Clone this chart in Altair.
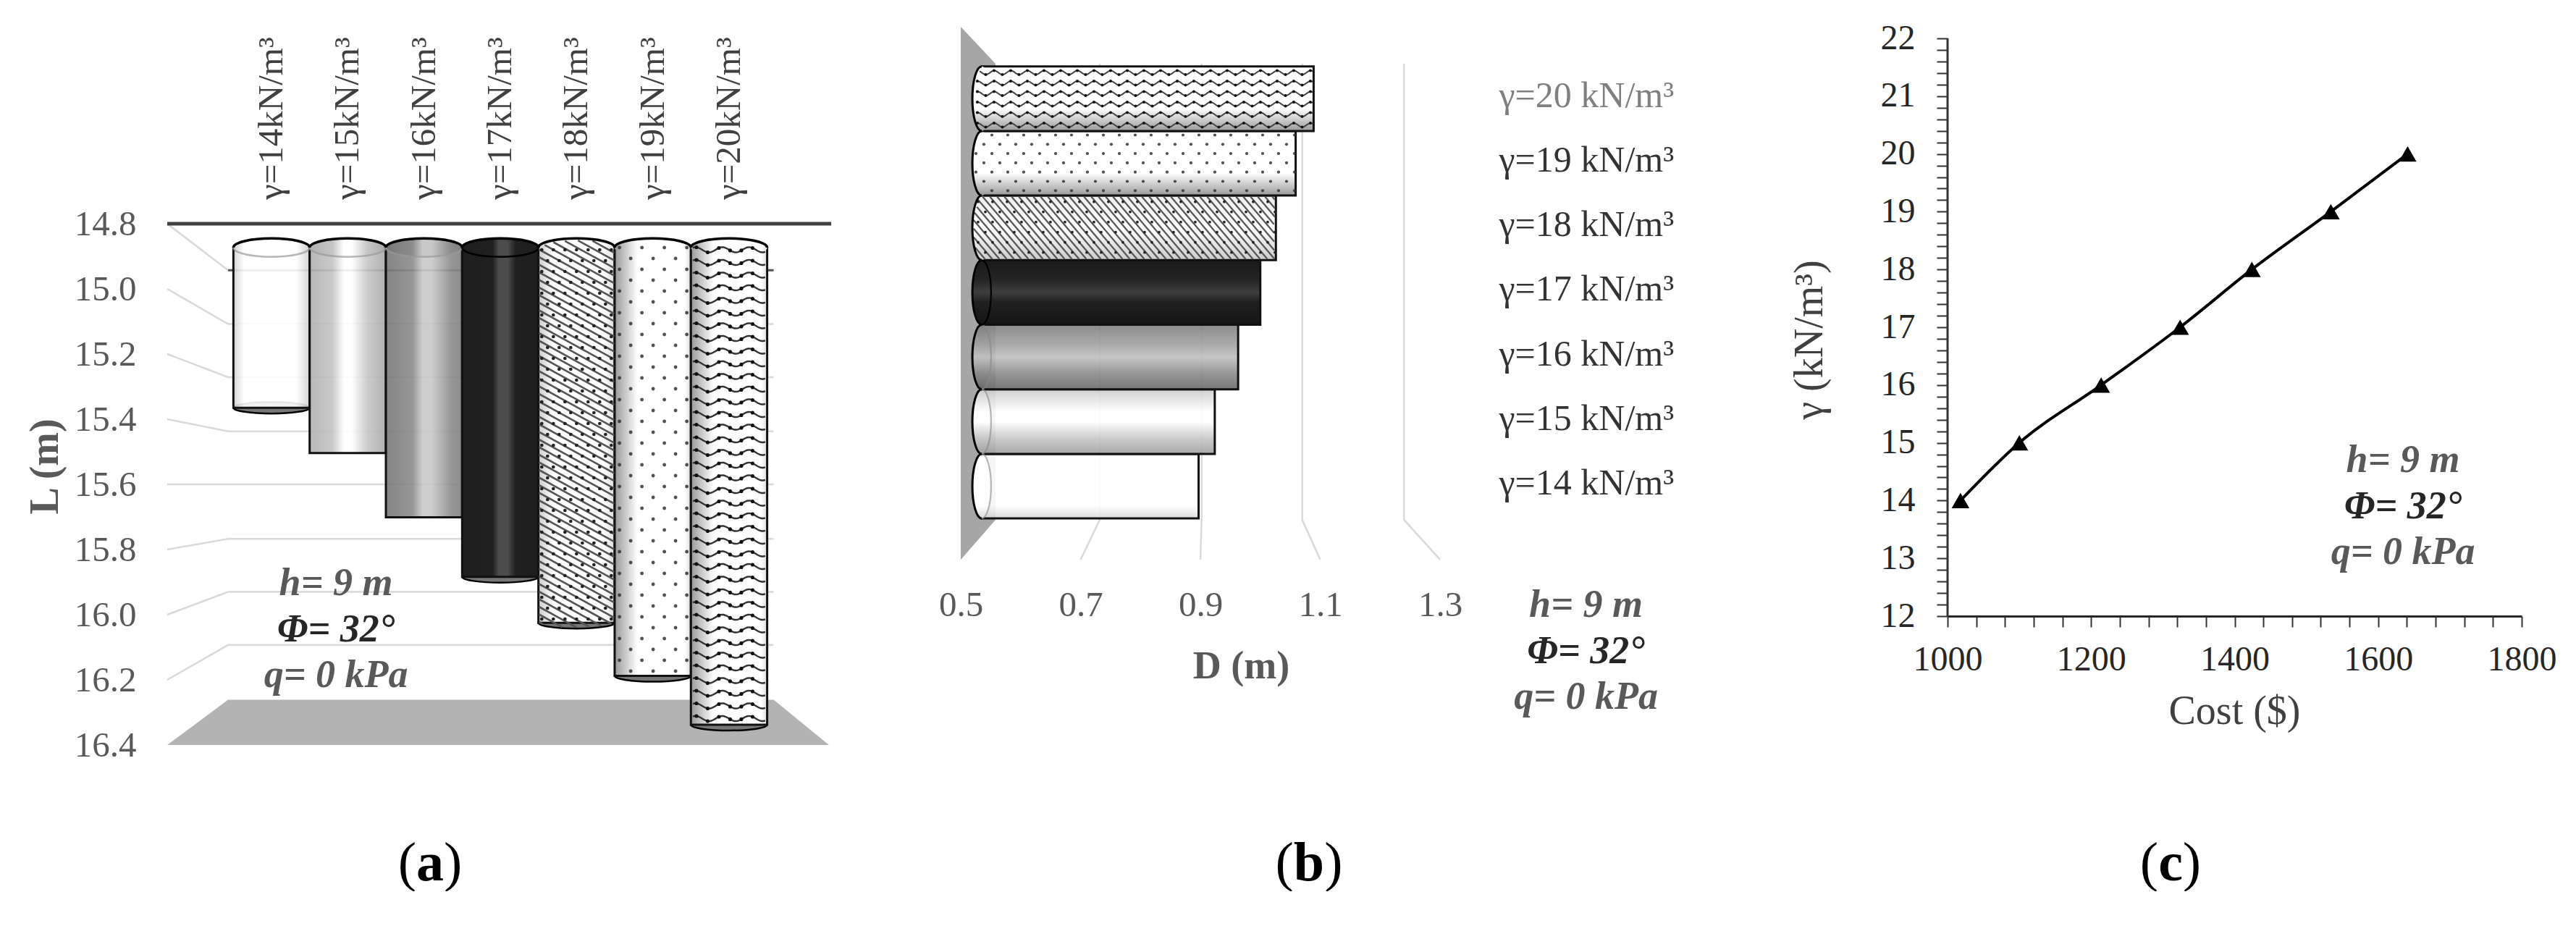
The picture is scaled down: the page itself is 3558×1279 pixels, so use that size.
import math
import numpy as np
import pandas as pd
import altair as alt

SERIF = "Liberation Serif"
gammas = [14, 15, 16, 17, 18, 19, 20]
L_bottom = [15.365, 15.504, 15.701, 15.884, 16.025, 16.188, 16.338]
D_right = [0.897, 0.924, 0.963, 1.000, 1.026, 1.059, 1.089]
cost = [1018, 1100, 1214, 1324, 1424, 1534, 1641]
L_ticks = [14.8, 15.0, 15.2, 15.4, 15.6, 15.8, 16.0, 16.2, 16.4]
L_back = [14.943, 15.108, 15.271, 15.437, 15.600, 15.767, 15.930, 16.093, 16.261]
D_ticks = [0.5, 0.7, 0.9, 1.1, 1.3]
D_back = [0.558, 0.732, 0.902, 1.070, 1.240]
stat_lines = ["h= 9 m", "Φ= 32°", "q= 0 kPa"]
stat_colors = ["#595959", "#262626", "#595959"]

TOP = 37
B_LEFT, B_TICK_R, B_BOTTOM = 1326, 1988, 773
C_LEFT, C_RIGHT, C_BOTTOM, C_Y22 = 2689, 3482, 851, 53
# panel a geometry
A_LEFT, A_RIGHT, A_BOTTOM = 230, B_LEFT, 1029
A_Y0 = 309
A_PXU = 105.3
A_PYU = (A_BOTTOM - A_Y0) / 1.6
A_XDOM = [14 - (374 - A_LEFT) / A_PXU, 20 + (A_RIGHT - 1006) / A_PXU]
A_YDOM = [16.4, 14.8 - (A_Y0 - TOP) / A_PYU]
# panel b geometry
B_RIGHT = C_LEFT
B_PXU = (B_TICK_R - B_LEFT) / 0.8
B_PYU = 89.2
B_Y14 = 671.5
B_Y20 = B_Y14 - 6 * B_PYU
B_YDOM = [14 - (B_BOTTOM - B_Y14) / B_PYU, 20 + (B_Y20 - TOP) / B_PYU]
B_XDOM = [0.5, 0.5 + (B_RIGHT - B_LEFT) / B_PXU]
# panel c geometry
C_YDOM = [12, 22 + (C_Y22 - TOP) / ((C_BOTTOM - C_Y22) / 10)]


def grad(stops, vertical=False):
    ss = [alt.GradientStop(color=c, offset=o) for o, c in stops]
    if vertical:
        return alt.LinearGradient(gradient="linear", stops=ss, x1=0, x2=0, y1=0, y2=1)
    return alt.LinearGradient(gradient="linear", stops=ss, x1=0, x2=1, y1=0, y2=0)


STOPS_A = {
    14: [(0, "#cfcfcf"), (.14, "#ffffff"), (.82, "#ffffff"), (1, "#d0d0d0")],
    15: [(0, "#b0b0b0"), (.3, "#c4c4c4"), (.45, "#ffffff"), (.55, "#ffffff"), (.75, "#c8c8c8"), (1, "#a8a8a8")],
    16: [(0, "#777777"), (.35, "#8c8c8c"), (.48, "#c8c8c8"), (.6, "#c8c8c8"), (.85, "#8c8c8c"), (1, "#808080")],
    17: [(0, "#1e1e1e"), (.4, "#202020"), (.48, "#4c4c4c"), (.6, "#4c4c4c"), (.7, "#202020"), (1, "#1e1e1e")],
    18: [(0, "#cccccc"), (.2, "#ffffff"), (.85, "#ffffff"), (1, "#dddddd")],
    19: [(0, "#999999"), (.3, "#ffffff"), (.92, "#ffffff"), (1, "#dddddd")],
    20: [(0, "#999999"), (.3, "#ffffff"), (.92, "#ffffff"), (1, "#dddddd")],
}
STOPS_B = {
    14: [(0, "#ffffff"), (.8, "#ffffff"), (1, "#d8d8d8")],
    15: [(0, "#cccccc"), (.35, "#ffffff"), (.5, "#ffffff"), (.75, "#c8c8c8"), (1, "#a0a0a0")],
    16: [(0, "#808080"), (.3, "#a0a0a0"), (.5, "#c0c0c0"), (.75, "#8c8c8c"), (1, "#6a6a6a")],
    17: [(0, "#1a1a1a"), (.3, "#242424"), (.5, "#3e3e3e"), (.65, "#202020"), (1, "#151515")],
    18: [(0, "#eeeeee"), (.5, "#ffffff"), (1, "#cccccc")],
    19: [(0, "#ffffff"), (.65, "#ffffff"), (1, "#999999")],
    20: [(0, "#ffffff"), (.65, "#ffffff"), (1, "#999999")],
}

ELL_TOP = "M-1,0A1,0.24,0,1,1,1,0A1,0.24,0,1,1,-1,0Z"
ARC_TOP_UP = "M-1,0A1,0.24,0,0,1,1,0"
ARC_TOP_DN = "M-1,0A1,0.24,0,0,0,1,0"
ELL_BOT = "M-1,0A1,0.15,0,1,1,1,0A1,0.15,0,1,1,-1,0Z"
ELL_LEFT = "M0,-1A0.29,1,0,1,1,0,1A0.29,1,0,1,1,0,-1Z"
ARC_LEFT = "M0,-1A0.29,1,0,0,0,0,1"
ARC_LEFT_R = "M0,-1A0.29,1,0,0,1,0,1"

# ---------------------- panel a
ax_sx = alt.Scale(domain=A_XDOM, nice=False, zero=False)
ax_sy = alt.Scale(domain=A_YDOM, nice=False, zero=False)
a_yaxis = alt.Axis(values=L_ticks, format=".1f", domain=False, ticks=False, grid=False,
                   labelFont=SERIF, labelFontSize=49, labelColor="#595959", labelPadding=43,
                   labelOverlap=False, labelBound=False, labelFlush=False,
                   title="L (m)", titleFont=SERIF, titleFontSize=56, titleFontWeight="bold",
                   titleColor="#595959", titleX=-140, titleY=607, titleAnchor="middle", titleAngle=270)
AX = lambda f="x": alt.X(f"{f}:Q", scale=ax_sx, axis=None, title=None)
AY = lambda f="y": alt.Y(f"{f}:Q", scale=ax_sy, axis=a_yaxis)
a_w = A_RIGHT - A_LEFT
a_h = A_BOTTOM - TOP
x_back_l = 14 + (314 - 374) / A_PXU
x_back_r = 20 + (1067.6 - 1006) / A_PXU
x_front_l, x_front_r = A_XDOM[0], 20 + (1144 - 1006) / A_PXU
a_layers = []

grid_rows = []
for i, (f, b) in enumerate(zip(L_ticks[:-1], L_back[:-1])):
    grid_rows += [dict(i=i, o=0, x=x_front_l, y=f), dict(i=i, o=1, x=x_back_l, y=b), dict(i=i, o=2, x=x_back_r, y=b)]
a_layers.append(
    alt.Chart(pd.DataFrame(grid_rows)).mark_line(color="#d9d9d9", strokeWidth=2.5).encode(x=AX(), y=AY(), detail="i:N", order="o:Q"))
floor = pd.DataFrame(dict(x=[x_front_l, x_back_l, x_back_r, x_front_r], y=[16.4, L_back[-1], L_back[-1], 16.4], y2=[16.4] * 4))
a_layers.append(alt.Chart(floor).mark_area(color="#b3b3b3", opacity=1).encode(x=AX(), y=AY(), y2="y2:Q"))
a_layers.append(alt.Chart(pd.DataFrame(dict(x=[x_front_l], x2=[x_front_r + .03], y=[14.8]))).mark_rule(color="#404040", strokeWidth=5).encode(x=AX(), x2="x2:Q", y=AY()))
a_layers.append(alt.Chart(pd.DataFrame(dict(x=[x_back_l], x2=[x_back_r], y=[L_back[0]]))).mark_rule(color="#555555", strokeWidth=3).encode(x=AX(), x2="x2:Q", y=AY()))

A_TOPL = 14.8 + (342 - A_Y0) / A_PYU
for g, bot in zip(gammas, L_bottom):
    d = pd.DataFrame(dict(x=[g - .5], x2=[g + .5], y=[A_TOPL], y2=[bot], c=[g], b=[bot], t=[A_TOPL]))
    st = grad(STOPS_A[g])
    if g not in (15, 16):
        a_layers.append(alt.Chart(d).mark_point(shape=ELL_BOT, size=A_PXU ** 2, filled=True, fill="#777777", stroke="#000000", strokeWidth=2.5, opacity=1).encode(x=AX("c"), y=AY("b")))
    a_layers.append(alt.Chart(d).mark_rect(color=st, stroke="#111111", strokeWidth=3, fillOpacity=.9 if g < 17 else 1).encode(x=AX(), x2="x2:Q", y=AY(), y2="y2:Q"))
    a_layers.append(alt.Chart(d).mark_point(shape=ELL_TOP, size=A_PXU ** 2, filled=True, fill=st, strokeWidth=0, opacity=1).encode(x=AX("c"), y=AY("t")))


def a_px(g, px, py):
    return g + (px) / A_PXU, 14.8 + (py - A_Y0) / A_PYU


def a_inside(t, py, bot_py):
    if abs(t) > 1:
        return False
    s = math.sqrt(max(0, 1 - t * t))
    return 342 - 12.6 * s + 2 <= py <= bot_py + 7.5 * s - 1


# bar 18: hatch + dots
bot18 = A_Y0 + (L_bottom[4] - 14.8) * A_PYU
rows = []
for k, c in enumerate(np.arange(250, bot18 + 40, 10.5)):
    pts = []
    for px in np.arange(-52, 52.5, 2):
        py = c + .55 * (px + 52)
        if a_inside(px / 52.65, py, bot18):
            pts.append((px, py))
    if len(pts) >= 2:
        for o, (px, py) in enumerate([pts[0], pts[-1]]):
            x, y = a_px(18, px, py)
            rows.append(dict(i=k, o=o, x=x, y=y))
a_layers.append(alt.Chart(pd.DataFrame(rows)).mark_line(color="#555555", strokeWidth=2.6).encode(x=AX(), y=AY(), detail="i:N", order="o:Q"))
dots = []
for r, py in enumerate(np.arange(345, bot18, 15)):
    for px in np.arange(-48 + (r % 2) * 8, 50, 16):
        if a_inside(px / 52.65, py, bot18):
            x, y = a_px(18, px, py)
            dots.append(dict(x=x, y=y))
a_layers.append(alt.Chart(pd.DataFrame(dots)).mark_circle(color="#222222", size=22, opacity=1).encode(x=AX(), y=AY()))

# bar 19: staggered dots
bot19 = A_Y0 + (L_bottom[5] - 14.8) * A_PYU
dots = []
for r, py in enumerate(np.arange(342, bot19, 15)):
    for px in np.arange(-46 + (r % 2) * 15.5, 50, 31):
        if a_inside(px / 52.65, py, bot19):
            x, y = a_px(19, px, py)
            dots.append(dict(x=x, y=y, s=px))
a_layers.append(alt.Chart(pd.DataFrame(dots)).mark_circle(color="#333333", size=24, opacity=.85).encode(x=AX(), y=AY()))

# bar 20: wavy rows
bot20 = A_Y0 + (L_bottom[6] - 14.8) * A_PYU
rows, dots = [], []
for k, yr in enumerate(np.arange(345, bot20 + 6, 17.5)):
    o = 0
    for px in np.arange(-50, 50.5, 2.5):
        py = yr + 3.6 * math.sin(2 * math.pi * px / 37)
        if a_inside(px / 52.65, py, bot20):
            x, y = a_px(20, px, py)
            rows.append(dict(i=k, o=o, x=x, y=y))
            o += 1
    for px in np.arange(-45, 48, 15.5):
        py = yr + 3.6 * math.sin(2 * math.pi * px / 37)
        if a_inside(px / 52.65, py, bot20):
            x, y = a_px(20, px, py)
            dots.append(dict(x=x, y=y))
a_layers.append(alt.Chart(pd.DataFrame(rows)).mark_line(color="#333333", strokeWidth=2.4).encode(x=AX(), y=AY(), detail="i:N", order="o:Q"))
a_layers.append(alt.Chart(pd.DataFrame(dots)).mark_circle(color="#111111", size=26, opacity=1).encode(x=AX(), y=AY()))

# arcs on top of all textures
for g in gammas:
    d = pd.DataFrame(dict(c=[g], t=[A_TOPL]))
    lower_col = "#000000" if g >= 17 else "#999999"
    lower_op = 0 if g >= 18 else (1 if g == 17 else .7)
    a_layers.append(alt.Chart(d).mark_point(shape=ARC_TOP_DN, size=A_PXU ** 2, filled=False, stroke=lower_col, strokeWidth=2.5, opacity=lower_op).encode(x=AX("c"), y=AY("t")))
    a_layers.append(alt.Chart(d).mark_point(shape=ARC_TOP_UP, size=A_PXU ** 2, filled=False, stroke="#000000", strokeWidth=3.5, opacity=1).encode(x=AX("c"), y=AY("t")))

labels_a = pd.DataFrame(dict(x=gammas, t=[f"γ={g}kN/m³" for g in gammas]))
a_layers.append(alt.Chart(labels_a).mark_text(font=SERIF, fontSize=49, angle=270, align="left", baseline="middle", color="#404040").encode(
    x=AX(), y=alt.value(276 - TOP), text="t:N"))


def stat_layers(cx, y0):
    out = []
    for i, (t, c) in enumerate(zip(stat_lines, stat_colors)):
        out.append(alt.Chart(pd.DataFrame(dict(t=[t]))).mark_text(font=SERIF, fontSize=54, fontStyle="italic", fontWeight="bold", align="center", baseline="middle", color=c).encode(
            x=alt.value(cx), y=alt.value(y0 + i * 63.5 - TOP), text="t:N"))
    return out


def caption_layers(cx, letter, wl):
    fs = 76
    pw = fs * .333
    total = 2 * pw + wl * fs
    x0 = cx - total / 2
    parts = [("(", "normal", x0), (letter, "bold", x0 + pw), (")", "normal", x0 + pw + wl * fs)]
    out = []
    for t, w, x in parts:
        out.append(alt.Chart(pd.DataFrame(dict(t=[t]))).mark_text(font=SERIF, fontSize=fs, fontWeight=w, align="left", baseline="middle", color="#000000").encode(
            x=alt.value(x), y=alt.value(1193 - TOP), text="t:N"))
    return out


a_layers += stat_layers(463 - A_LEFT, 806)
a_layers += caption_layers(593 - A_LEFT, "a", .5)
panel_a = alt.layer(*a_layers).properties(width=a_w, height=a_h)

# ---------------------- panel b
bx_s = alt.Scale(domain=B_XDOM, nice=False, zero=False)
by_s = alt.Scale(domain=B_YDOM, nice=False, zero=False)
b_xaxis = alt.Axis(values=D_ticks, format=".1f", domain=False, ticks=False, grid=False, labelFont=SERIF, labelFontSize=49,
                   labelColor="#595959", labelPadding=38, labelBound=False, labelOverlap=False, labelFlush=False, title="D (m)", titleFont=SERIF, titleFontSize=54,
                   titleFontWeight="bold", titleColor="#595959", titleX=387, titleY=120, titleAnchor="middle")
b_yaxis = alt.Axis(orient="right", values=gammas, domain=False, ticks=False, grid=False, labelFont=SERIF, labelFontSize=50, labelLimit=600,
                   labelColor=alt.expr("datum.value == 20 ? '#7f7f7f' : '#333333'"), labelPadding=2069 - B_RIGHT, labelAlign="left", labelOffset=-4,
                   labelExpr="'γ=' + datum.value + ' kN/m³'", labelBound=False, labelOverlap=False, labelFlush=False, title=None)
BX = lambda f="x": alt.X(f"{f}:Q", scale=bx_s, axis=b_xaxis)
BY = lambda f="y": alt.Y(f"{f}:Q", scale=by_s, axis=b_yaxis)
b_w = B_RIGHT - B_LEFT
b_h = B_BOTTOM - TOP
y_front_b = B_YDOM[0]
y_back_b = 14 + (B_Y14 - 718) / B_PYU
y_back_t = 14 + (B_Y14 - 88) / B_PYU
y_front_t = B_YDOM[1]
b_layers = []
wall = pd.DataFrame(dict(y=[y_front_t, y_back_t, y_back_b, y_front_b], x=[.5, D_back[0], D_back[0], .5], x2=[.5] * 4))
grid_rows = []
for i, (f, b) in enumerate(zip(D_ticks[1:], D_back[1:])):
    grid_rows += [dict(i=i, o=0, x=f, y=y_front_b), dict(i=i, o=1, x=b, y=y_back_b)]
    grid_rows += [dict(i=i, o=2, x=b, y=y_back_t)]
b_layers.append(alt.Chart(pd.DataFrame(grid_rows)).mark_line(color="#d9d9d9", strokeWidth=2.5).encode(x=BX(), y=BY(), detail="i:N", order="o:Q"))
b_layers.append(alt.Chart(wall).mark_area(color="#a6a6a6", opacity=1, orient="horizontal").encode(x=BX(), x2="x2:Q", y=BY()))

D_LEFT = 0.535
for g, r in zip(gammas, D_right):
    d = pd.DataFrame(dict(x=[D_LEFT], x2=[r], y=[g + .5], y2=[g - .5], g=[g]))
    st = grad(STOPS_B[g], True)
    b_layers.append(alt.Chart(d).mark_rect(color=st, stroke="#111111", strokeWidth=3, fillOpacity=.9 if g < 17 else 1).encode(x=BX(), x2="x2:Q", y=BY(), y2="y2:Q"))
    b_layers.append(alt.Chart(d).mark_point(shape=ELL_LEFT, size=B_PYU ** 2, filled=True, fill=st, strokeWidth=0, opacity=1).encode(x=BX(), y=BY("g")))


def b_px(g, r_dx, dy):
    return D_LEFT + r_dx / B_PXU, g - dy / B_PYU


def b_inside(dx, dy, w):
    t = dy / 44.6
    if abs(t) > 1:
        return False
    return -13 * math.sqrt(1 - t * t) + 1 <= dx <= w - 1


# bar 18 hatch
w18 = (D_right[4] - D_LEFT) * B_PXU
rows, dots = [], []
for k, c in enumerate(np.arange(-100, w18 + 20, 10)):
    pts = [(c + .85 * (dy + 44.6), dy) for dy in np.arange(-43, 43.5, 2)]
    pts = [p for p in pts if b_inside(p[0], p[1], w18)]
    if len(pts) >= 2:
        for o, (px, py) in enumerate([pts[0], pts[-1]]):
            x, y = b_px(18, px, py)
            rows.append(dict(i=k, o=o, x=x, y=y))
b_layers.append(alt.Chart(pd.DataFrame(rows)).mark_line(color="#555555", strokeWidth=2.2).encode(x=BX(), y=BY(), detail="i:N", order="o:Q"))
for r, dy in enumerate(np.arange(-36, 42, 14)):
    for px in np.arange(-5 + (r % 2) * 10, w18, 20):
        if b_inside(px, dy, w18):
            x, y = b_px(18, px, dy)
            dots.append(dict(x=x, y=y))
b_layers.append(alt.Chart(pd.DataFrame(dots)).mark_circle(color="#222222", size=14, opacity=1).encode(x=BX(), y=BY()))

# bar 19 dots
w19 = (D_right[5] - D_LEFT) * B_PXU
dots = []
for r, dy in enumerate(np.arange(-39, 42, 12.8)):
    for px in np.arange(-8 + (r % 2) * 11, w19, 22):
        if b_inside(px, dy, w19):
            x, y = b_px(19, px, dy)
            dots.append(dict(x=x, y=y))
b_layers.append(alt.Chart(pd.DataFrame(dots)).mark_circle(color="#333333", size=18, opacity=.85).encode(x=BX(), y=BY()))

# bar 20 waves
w20 = (D_right[6] - D_LEFT) * B_PXU
rows, dots = [], []
for k, dy0 in enumerate(np.arange(-36, 44, 14.5)):
    o = 0
    for px in np.arange(-8, w20, 2.5):
        dy = dy0 + 2.8 * math.sin(2 * math.pi * px / 23)
        if b_inside(px, dy, w20):
            x, y = b_px(20, px, dy)
            rows.append(dict(i=k, o=o, x=x, y=y))
            o += 1
    for px in np.arange(-6, w20, 11.5):
        dy = dy0 + 2.8 * math.sin(2 * math.pi * px / 23)
        if b_inside(px, dy, w20):
            x, y = b_px(20, px, dy)
            dots.append(dict(x=x, y=y))
b_layers.append(alt.Chart(pd.DataFrame(rows)).mark_line(color="#444444", strokeWidth=2).encode(x=BX(), y=BY(), detail="i:N", order="o:Q"))
b_layers.append(alt.Chart(pd.DataFrame(dots)).mark_circle(color="#111111", size=16, opacity=1).encode(x=BX(), y=BY()))

for g, r in zip(gammas, D_right):
    d = pd.DataFrame(dict(x=[D_LEFT], g=[g]))
    b_layers.append(alt.Chart(d).mark_point(shape=ARC_LEFT_R, size=B_PYU ** 2, filled=False, stroke="#000000" if g == 17 else "#888888", strokeWidth=2.2, opacity=1 if g == 17 else (.0 if g >= 18 else .6)).encode(x=BX(), y=BY("g")))
    b_layers.append(alt.Chart(d).mark_point(shape=ARC_LEFT, size=B_PYU ** 2, filled=False, stroke="#000000", strokeWidth=3, opacity=1).encode(x=BX(), y=BY("g")))

b_layers += stat_layers(2189.5 - B_LEFT, 836)
b_layers += caption_layers(1807 - B_LEFT, "b", .556)
panel_b = alt.layer(*b_layers).properties(width=b_w, height=b_h)

# ---------------------- panel c
cx_s = alt.Scale(domain=[1000, 1800], nice=False, zero=False)
cy_s = alt.Scale(domain=C_YDOM, nice=False, zero=False)
x_vals = [1000 + 40 * i for i in range(21)]
y_vals = [round(12 + .2 * i, 1) for i in range(51)]
c_line = pd.DataFrame(dict(x=cost, y=gammas))
c_xaxis = alt.Axis(values=x_vals, domain=True, domainColor="#262626", domainWidth=3, ticks=True, tickColor="#333333", tickWidth=2, tickSize=15, grid=False,
                   labelExpr="datum.value % 200 == 0 ? datum.label : ''", format="d", labelFont=SERIF, labelFontSize=48, labelColor="#262626",
                   labelPadding=21, labelBound=False, labelOverlap=False, labelFlush=False, title="Cost ($)", titleFont=SERIF, titleFontSize=56, titleFontWeight="normal",
                   titleColor="#404040", titleX=396, titleY=104, titleAnchor="middle")
c_yaxis = alt.Axis(values=y_vals, domain=False, ticks=True, tickColor="#333333", tickWidth=2, tickSize=15, grid=False,
                   labelExpr="abs(datum.value - round(datum.value)) < 0.01 ? format(datum.value, 'd') : ''", labelFont=SERIF, labelFontSize=48, labelColor="#262626",
                   labelPadding=30, labelBound=False, labelOverlap=False, labelFlush=False, title="γ  (kN/m³)", titleFont=SERIF, titleFontSize=56, titleFontWeight="normal",
                   titleColor="#404040", titleX=-162, titleY=432, titleAnchor="middle", titleAngle=270)
CX = alt.X("x:Q", scale=cx_s, axis=c_xaxis)
CY = alt.Y("y:Q", scale=cy_s, axis=c_yaxis)
c_layers = [
    alt.Chart(c_line).mark_line(color="#000000", strokeWidth=4, interpolate="monotone").encode(x=CX, y=CY),
    alt.Chart(pd.DataFrame(dict(x=[1000], y=[12], y2=[22]))).mark_rule(color="#333333", strokeWidth=3).encode(x=CX, y=CY, y2="y2:Q"),
    alt.Chart(c_line).mark_point(shape="triangle-up", size=600, filled=True, color="#000000", opacity=1).encode(x=CX, y=CY),
]
c_layers += stat_layers(3318 - C_LEFT, 636)
c_layers += caption_layers(2997 - C_LEFT, "c", .444)
panel_c = alt.layer(*c_layers).properties(width=C_RIGHT - C_LEFT, height=C_BOTTOM - TOP)

chart = alt.hconcat(panel_a, panel_b, panel_c, spacing=0, bounds="flush").properties(
    padding={"left": 26, "top": 20, "right": 0, "bottom": 0}, background="#ffffff").configure_view(stroke=None)
chart.save("out.html", embed_options={"renderer": "svg", "actions": False})
